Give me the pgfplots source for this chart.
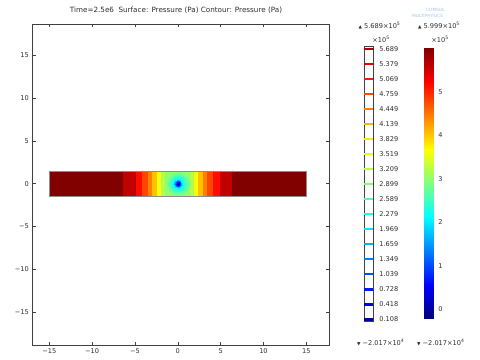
\documentclass[border=0pt]{standalone}
\usepackage{fontspec}
\setmainfont{DejaVu Sans}
\usepackage{pgfplots}
\pgfplotsset{compat=1.18}
\definecolor{TxtGray}{RGB}{45,45,45}
\definecolor{LogoBlue}{RGB}{160,195,228}
\newcommand{\lbl}{\fontsize{6.6bp}{8bp}\selectfont}
\newcommand{\tri}[1]{{\fontsize{4.5bp}{5bp}\selectfont #1}}

\pgfplotsset{
  comsol/.style={
    scale only axis,
    anchor=south west,
    axis line style={black!75},
    every tick/.style={black!75},
    tick label style={font=\lbl, text=TxtGray},
    colormap/jet,
  },
}

\begin{document}
\begin{tikzpicture}
\useasboundingbox (0bp,0bp) rectangle (480bp,360bp);

% main view: pressure in the strip
\begin{axis}[comsol, at={(32.3bp,15bp)}, width=296.7bp, height=321bp,
  xmin=-16.98, xmax=17.65, ymin=-18.8, ymax=18.6,
  xtick={-15,-10,-5,0,5,10,15}, ytick={-15,-10,-5,0,5,10,15},
  xticklabels={−15,−10,−5,0,5,10,15}, yticklabels={−15,−10,−5,0,5,10,15},
  major tick length=3.5bp,
  point meta min=-20170, point meta max=599900]
% banded surface, each band given by its two edges
\addplot[surf, shader=flat mean, mesh/rows=2, point meta=explicit] coordinates {
(-15,-1.5)[599000] (-6.4,-1.5)[599000] (-6.4,-1.5)[560000] (-4.9,-1.5)[560000] (-4.9,-1.5)[515000] (-4.15,-1.5)[515000] (-4.15,-1.5)[480000] (-3.45,-1.5)[480000] (-3.45,-1.5)[445000] (-2.93,-1.5)[445000] (-2.93,-1.5)[405000] (-2.35,-1.5)[405000] (-2.35,-1.5)[365000] (-1.88,-1.5)[365000] (-1.88,-1.5)[321000] (-1.5,-1.5)[321000] (-1.5,-1.5)[300000] (1.5,-1.5)[300000] (1.5,-1.5)[321000] (1.88,-1.5)[321000] (1.88,-1.5)[365000] (2.35,-1.5)[365000] (2.35,-1.5)[405000] (2.93,-1.5)[405000] (2.93,-1.5)[445000] (3.45,-1.5)[445000] (3.45,-1.5)[480000] (4.15,-1.5)[480000] (4.15,-1.5)[515000] (4.9,-1.5)[515000] (4.9,-1.5)[560000] (6.4,-1.5)[560000] (6.4,-1.5)[599000] (15,-1.5)[599000]
(-15,1.5)[599000] (-6.4,1.5)[599000] (-6.4,1.5)[560000] (-4.9,1.5)[560000] (-4.9,1.5)[515000] (-4.15,1.5)[515000] (-4.15,1.5)[480000] (-3.45,1.5)[480000] (-3.45,1.5)[445000] (-2.93,1.5)[445000] (-2.93,1.5)[405000] (-2.35,1.5)[405000] (-2.35,1.5)[365000] (-1.88,1.5)[365000] (-1.88,1.5)[321000] (-1.5,1.5)[321000] (-1.5,1.5)[300000] (1.5,1.5)[300000] (1.5,1.5)[321000] (1.88,1.5)[321000] (1.88,1.5)[365000] (2.35,1.5)[365000] (2.35,1.5)[405000] (2.93,1.5)[405000] (2.93,1.5)[445000] (3.45,1.5)[445000] (3.45,1.5)[480000] (4.15,1.5)[480000] (4.15,1.5)[515000] (4.9,1.5)[515000] (4.9,1.5)[560000] (6.4,1.5)[560000] (6.4,1.5)[599000] (15,1.5)[599000]
};
% drawdown around the well (angle, radius)
\addplot[surf, shader=interp, data cs=polar, mesh/rows=13, mesh/cols=7, point meta=explicit] coordinates {
(0,0)[-20170] (0,0.12)[35000] (0,0.3)[105000] (0,0.5)[205000] (0,0.9)[250000] (0,1.2)[280000] (0,1.5)[305000]
(30,0)[-20170] (30,0.12)[35000] (30,0.3)[105000] (30,0.5)[205000] (30,0.9)[250000] (30,1.2)[280000] (30,1.5)[305000]
(60,0)[-20170] (60,0.12)[35000] (60,0.3)[105000] (60,0.5)[205000] (60,0.9)[250000] (60,1.2)[280000] (60,1.5)[305000]
(90,0)[-20170] (90,0.12)[35000] (90,0.3)[105000] (90,0.5)[205000] (90,0.9)[250000] (90,1.2)[280000] (90,1.5)[305000]
(120,0)[-20170] (120,0.12)[35000] (120,0.3)[105000] (120,0.5)[205000] (120,0.9)[250000] (120,1.2)[280000] (120,1.5)[305000]
(150,0)[-20170] (150,0.12)[35000] (150,0.3)[105000] (150,0.5)[205000] (150,0.9)[250000] (150,1.2)[280000] (150,1.5)[305000]
(180,0)[-20170] (180,0.12)[35000] (180,0.3)[105000] (180,0.5)[205000] (180,0.9)[250000] (180,1.2)[280000] (180,1.5)[305000]
(210,0)[-20170] (210,0.12)[35000] (210,0.3)[105000] (210,0.5)[205000] (210,0.9)[250000] (210,1.2)[280000] (210,1.5)[305000]
(240,0)[-20170] (240,0.12)[35000] (240,0.3)[105000] (240,0.5)[205000] (240,0.9)[250000] (240,1.2)[280000] (240,1.5)[305000]
(270,0)[-20170] (270,0.12)[35000] (270,0.3)[105000] (270,0.5)[205000] (270,0.9)[250000] (270,1.2)[280000] (270,1.5)[305000]
(300,0)[-20170] (300,0.12)[35000] (300,0.3)[105000] (300,0.5)[205000] (300,0.9)[250000] (300,1.2)[280000] (300,1.5)[305000]
(330,0)[-20170] (330,0.12)[35000] (330,0.3)[105000] (330,0.5)[205000] (330,0.9)[250000] (330,1.2)[280000] (330,1.5)[305000]
(360,0)[-20170] (360,0.12)[35000] (360,0.3)[105000] (360,0.5)[205000] (360,0.9)[250000] (360,1.2)[280000] (360,1.5)[305000]
};
\addplot[black!45, line width=0.5bp] coordinates {(-15,-1.5) (15,-1.5) (15,1.5) (-15,1.5) (-15,-1.5)};
\end{axis}

% contour level legend
\begin{axis}[comsol, at={(364bp,38.3bp)}, width=9.3bp, height=275bp,
  xmin=0, xmax=1, ymin=0.058, ymax=5.736, xtick=\empty,
  ytick={0.108,0.418,0.728,1.039,1.349,1.659,1.969,2.279,2.589,2.899,3.209,3.519,3.829,4.139,4.449,4.759,5.069,5.379,5.689},
  yticklabels={0.108,0.418,0.728,1.039,1.349,1.659,1.969,2.279,2.589,2.899,3.209,3.519,3.829,4.139,4.449,4.759,5.069,5.379,5.689},
  yticklabel pos=right, major tick length=0pt,
  yticklabel style={xshift=2.5bp},
  axis background/.style={fill=white},
  point meta min=-0.2017, point meta max=5.999]
\addplot[scatter, only marks, mark=-, mark size=4.4bp, mark options={line width=2.6bp},
  point meta=y, scatter/use mapped color={draw=mapped color}] coordinates {
(0.5,0.108) (0.5,0.418) (0.5,0.728) (0.5,1.039) (0.5,1.349) (0.5,1.659) (0.5,1.969) (0.5,2.279) (0.5,2.589) (0.5,2.899) (0.5,3.209) (0.5,3.519) (0.5,3.829) (0.5,4.139) (0.5,4.449) (0.5,4.759) (0.5,5.069) (0.5,5.379) (0.5,5.689)};
\end{axis}

% surface colour bar
\begin{axis}[comsol, at={(424bp,41.7bp)}, width=9.3bp, height=270bp,
  xmin=0, xmax=1, ymin=-0.2017, ymax=5.999, xtick=\empty,
  ytick={0,1,2,3,4,5}, yticklabels={0,1,2,3,4,5},
  ytick pos=right, yticklabel pos=right,
  major tick length=2.5bp, yticklabel style={xshift=1.5bp},
  point meta min=-0.2017, point meta max=5.999]
\addplot[surf, shader=interp, mesh/rows=9, point meta=y] coordinates {
(0,-0.2017) (1,-0.2017)
(0,0.5734) (1,0.5734)
(0,1.3485) (1,1.3485)
(0,2.1236) (1,2.1236)
(0,2.8987) (1,2.8987)
(0,3.6738) (1,3.6738)
(0,4.4488) (1,4.4488)
(0,5.2239) (1,5.2239)
(0,5.999) (1,5.999)};
\end{axis}

\begin{scope}[every node/.style={font=\lbl, text=TxtGray, inner sep=0pt}]
\node[font=\fontsize{7.2bp}{8bp}\selectfont] at (176bp,349.3bp) {Time=2.5e6\ \ Surface: Pressure (Pa) Contour: Pressure (Pa)};
\node at (379.5bp,334.3bp) {\tri{▲} 5.689×10\textsuperscript{5}};
\node at (439bp,334.3bp) {\tri{▲} 5.999×10\textsuperscript{5}};
\node at (381bp,320.7bp) {×10\textsuperscript{5}};
\node at (440bp,320.7bp) {×10\textsuperscript{5}};
\node at (380.7bp,17.7bp) {\tri{▼} −2.017×10\textsuperscript{4}};
\node at (440.8bp,17.7bp) {\tri{▼} −2.017×10\textsuperscript{4}};
\end{scope}
\node[font=\fontsize{4.3bp}{5bp}\selectfont, text=LogoBlue, inner sep=0pt] at (435.5bp,350bp) {COMSOL};
\node[font=\fontsize{4.3bp}{5bp}\selectfont, text=LogoBlue, inner sep=0pt] at (427.5bp,344.3bp) {MULTIPHYSICS};
\end{tikzpicture}
\end{document}
